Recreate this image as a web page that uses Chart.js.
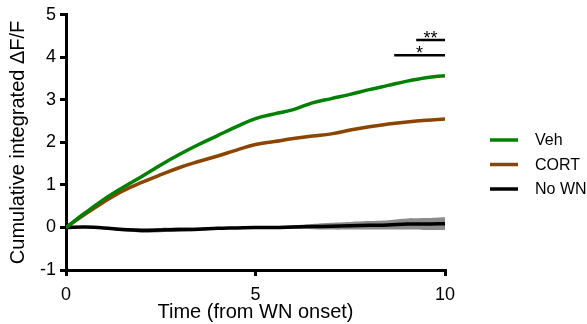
<!DOCTYPE html>
<html>
<head>
<meta charset="utf-8">
<script src="https://cdn.jsdelivr.net/npm/chart.js@4"></script>
<style>
  html, body { margin: 0; padding: 0; background: #fff; }
  #wrap { width: 587px; height: 324px; }
</style>
</head>
<body>
<div id="wrap"><canvas id="myChart" width="587" height="324"></canvas></div>
<script>
// time points (min from WN onset)
var timepoint = [0, 0.5, 1, 1.5, 2, 2.5, 3, 3.5, 4, 4.5, 5, 5.5, 6, 6.5, 7, 7.5, 8, 8.5, 9, 9.5, 10];
var veh = [0, 0.34, 0.66, 0.94, 1.2, 1.47, 1.72, 1.95, 2.16, 2.37, 2.56, 2.67, 2.77, 2.93, 3.03, 3.13, 3.24, 3.34, 3.44, 3.52, 3.57];
var cort = [0, 0.31, 0.6, 0.86, 1.06, 1.24, 1.41, 1.55, 1.68, 1.82, 1.95, 2.02, 2.09, 2.15, 2.2, 2.29, 2.37, 2.43, 2.48, 2.52, 2.55];
var noWN = [0, 0.01, -0.01, -0.05, -0.07, -0.06, -0.05, -0.04, -0.02, -0.01, 0, 0, 0.01, 0.02, 0.03, 0.04, 0.05, 0.06, 0.08, 0.08, 0.09];
var noWNsem = [0, 0.01, 0.02, 0.04, 0.05, 0.05, 0.05, 0.04, 0.03, 0.02, 0.02, 0.03, 0.04, 0.06, 0.08, 0.09, 0.1, 0.11, 0.13, 0.14, 0.15];

var seriesNames = ["Veh", "CORT", "No WN"];
var seriesColors = ["#008000", "#8b4500", "#000000"];

// significance bars: [x start, x end, y, stars]
var sigStart = [9.24, 8.66];
var sigEnd = [10, 10];
var sigY = [4.41, 4.05];
var sigText = ["**", "*"];

var xTicks = [0, 5, 10];

function pts(ys) {
  return timepoint.map(function(t, i) { return {x: t, y: ys[i]}; });
}

var upper = noWN.map(function(v, i) { return v + noWNsem[i]; });
var lower = noWN.map(function(v, i) { return v - noWNsem[i]; });

// first dataset is drawn on top
var datasets = [
  { label: seriesNames[0], data: pts(veh), borderColor: seriesColors[0], borderWidth: 3.5, pointRadius: 0, tension: 0.4 },
  { label: seriesNames[1], data: pts(cort), borderColor: seriesColors[1], borderWidth: 3.5, pointRadius: 0, tension: 0.4 },
  { label: seriesNames[2], data: pts(noWN), borderColor: seriesColors[2], borderWidth: 3.5, pointRadius: 0, tension: 0.4 },
  { label: "semLow", data: pts(lower), borderWidth: 0, pointRadius: 0, fill: false, tension: 0.4 },
  { label: "semHigh", data: pts(upper), borderWidth: 0, pointRadius: 0, fill: 3,
    backgroundColor: "rgba(128,128,128,0.9)", tension: 0.4 }
];

for (var i = 0; i < sigY.length; i++) {
  datasets.push({
    label: "sig" + i,
    data: [{x: sigStart[i], y: sigY[i]}, {x: sigEnd[i], y: sigY[i]}],
    borderColor: "#000", borderWidth: 2.5, pointRadius: 0
  });
}

// legend + stars drawn on top
var extras = {
  id: "extras",
  afterDraw: function(chart) {
    var ctx = chart.ctx;
    var xs = chart.scales.x, ys = chart.scales.y;
    ctx.save();
    ctx.fillStyle = "#000";
    ctx.font = "18px 'Liberation Sans', Arial, sans-serif";
    ctx.textAlign = "center";
    ctx.textBaseline = "alphabetic";
    for (var i = 0; i < sigText.length; i++) {
      var cx = xs.getPixelForValue((sigStart[i] + sigEnd[i]) / 2);
      var cy = ys.getPixelForValue(sigY[i]);
      ctx.fillText(sigText[i], cx, cy + 4);
    }
    // legend
    var lx = chart.chartArea.right + 45;
    var ly = 140;
    ctx.textAlign = "left";
    ctx.textBaseline = "middle";
    ctx.font = "16px 'Liberation Sans', Arial, sans-serif";
    for (var j = 0; j < seriesNames.length; j++) {
      var yy = ly + j * 24.5;
      ctx.strokeStyle = seriesColors[j];
      ctx.lineWidth = 3.5;
      ctx.beginPath();
      ctx.moveTo(lx, yy);
      ctx.lineTo(lx + 28, yy);
      ctx.stroke();
      ctx.fillStyle = "#000";
      ctx.fillText(seriesNames[j], lx + 45, yy + 1);
    }
    ctx.restore();
  }
};

var tickFont = { family: "'Liberation Sans', Arial, sans-serif", size: 18 };
var titleFont = { family: "'Liberation Sans', Arial, sans-serif", size: 20 };

var myChart = new Chart(document.getElementById("myChart"), {
  type: "line",
  data: { datasets: datasets },
  options: {
    responsive: false,
    animation: false,
    layout: { padding: { top: 10, right: 142, left: 0, bottom: 0 } },
    plugins: { legend: { display: false }, tooltip: { enabled: false } },
    scales: {
      x: {
        type: "linear", min: 0, max: 10,
        afterBuildTicks: function(s) { s.ticks = xTicks.map(function(v) { return {value: v}; }); },
        ticks: { color: "#000", font: tickFont, padding: 8, maxRotation: 0 },
        grid: { drawOnChartArea: false, color: "#000", lineWidth: 3, tickLength: 6 },
        border: { color: "#000", width: 3 },
        title: { display: true, text: "Time (from WN onset)", color: "#000", font: titleFont, padding: 0 },
        afterFit: function(s) { s.height = 54; }
      },
      y: {
        min: -1, max: 5,
        ticks: { stepSize: 1, color: "#000", font: tickFont, padding: 4 },
        grid: { drawOnChartArea: false, color: "#000", lineWidth: 3, tickLength: 6 },
        border: { color: "#000", width: 3 },
        title: { display: true, text: "Cumulative integrated \u0394F/F", color: "#000", font: titleFont, padding: { top: 6, bottom: 0 } },
        afterFit: function(s) { s.width = 66; }
      }
    }
  },
  plugins: [extras]
});
</script>
</body>
</html>
